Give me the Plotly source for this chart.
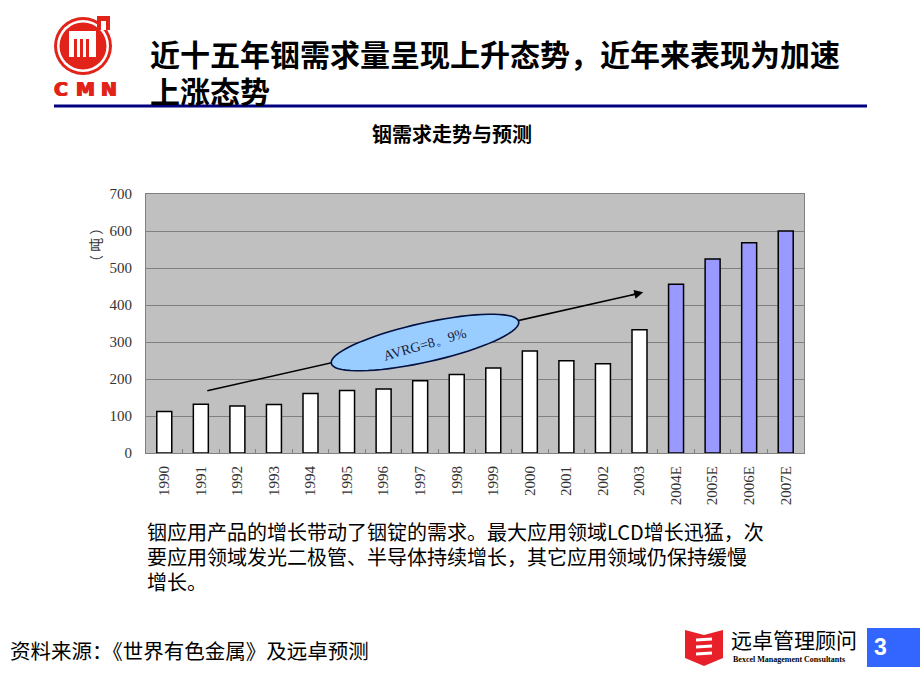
import math
import plotly.graph_objects as go

# ---------------- data ----------------
years_hist = ["1990", "1991", "1992", "1993", "1994", "1995", "1996", "1997",
              "1998", "1999", "2000", "2001", "2002", "2003"]
demand_hist = [112, 132, 127, 131, 161, 169, 173, 195, 212, 230, 276, 249, 241, 333]
years_fcst = ["2004E", "2005E", "2006E", "2007E"]
demand_fcst = [456, 524, 568, 600]
y_ticks = [0, 100, 200, 300, 400, 500, 600, 700]

title_line1 = "近十五年铟需求量呈现上升态势，近年来表现为加速"
title_line2 = "上涨态势"
chart_title = "铟需求走势与预测"
unit_label = "（ 吨 ）"
avrg_label = "AVRG=8。9%"
body_lines = ["铟应用产品的增长带动了铟锭的需求。最大应用领域LCD增长迅猛，次",
              "要应用领域发光二极管、半导体持续增长，其它应用领域仍保持缓慢",
              "增长。"]
source_text = "资料来源：《世界有色金属》及远卓预测"

W, H = 920, 690


def px(x):
    return x / W


def py(y):
    return 1 - y / H


CJK = "Noto Sans CJK SC"
SERIF = "Liberation Serif"
RED = "#E2231A"

fig = go.Figure()
fig.add_trace(go.Bar(x=years_hist, y=demand_hist, marker=dict(color="white", line=dict(color="black", width=1.5)),
                     showlegend=False))
fig.add_trace(go.Bar(x=years_fcst, y=demand_fcst, marker=dict(color="#9999FF", line=dict(color="black", width=1.5)),
                     showlegend=False))

shapes = []
annotations = []

# title underline
shapes.append(dict(type="line", xref="paper", yref="paper", x0=px(54), x1=px(867), y0=py(106), y1=py(106),
                   line=dict(color="#000080", width=3)))

# CMN logo
cx, cy = 83, 46


def circ(r, **kw):
    d = dict(type="circle", xref="paper", yref="paper", x0=px(cx - r), x1=px(cx + r), y0=py(cy + r), y1=py(cy - r))
    d.update(kw)
    return d


def rect(x0, y0, x1, y1, color):
    return dict(type="rect", xref="paper", yref="paper", x0=px(x0), x1=px(x1), y0=py(y1), y1=py(y0),
                fillcolor=color, line=dict(width=0))


shapes.append(circ(29, fillcolor=RED, line=dict(width=0)))
shapes.append(circ(26, fillcolor="white", line=dict(width=0)))
shapes.append(circ(23.5, fillcolor=RED, line=dict(width=0)))
shapes.append(rect(69, 31, 96, 57, "white"))
shapes.append(rect(74, 39, 77, 57, RED))
shapes.append(rect(80, 39, 83, 57, RED))
shapes.append(rect(86, 39, 89, 57, RED))
shapes.append(rect(92, 36, 96, 57, "white"))
shapes.append(rect(97, 16, 110, 30, RED))
shapes.append(rect(101, 21, 106, 30, "white"))
thick = ", ".join("%gpx %gpx 0px %s" % (dx, dy, RED) for dx, dy in ((0.8, 0), (-0.8, 0)))
for letter, lx in (("C", 61), ("M", 85), ("N", 108.5)):
    annotations.append(dict(text="<b>%s</b>" % letter, xref="paper", yref="paper", x=px(lx), y=py(89),
                            xanchor="center", yanchor="middle", showarrow=False,
                            font=dict(family="DejaVu Sans", size=19, color=RED, shadow=thick)))

# titles
annotations.append(dict(text="<b>%s</b>" % title_line1, xref="paper", yref="paper", x=px(148), y=py(53),
                        xanchor="left", yanchor="middle", showarrow=False,
                        font=dict(family=CJK, size=30, color="black")))
annotations.append(dict(text="<b>%s</b>" % title_line2, xref="paper", yref="paper", x=px(148), y=py(90),
                        xanchor="left", yanchor="middle", showarrow=False,
                        font=dict(family=CJK, size=30, color="black")))
annotations.append(dict(text="<b>%s</b>" % chart_title, xref="paper", yref="paper", x=px(452), y=py(133),
                        xanchor="center", yanchor="middle", showarrow=False,
                        font=dict(family=CJK, size=20, color="black")))
annotations.append(dict(text=unit_label, xref="paper", yref="paper", x=px(95), y=py(245), textangle=-90,
                        xanchor="center", yanchor="middle", showarrow=False,
                        font=dict(family=CJK, size=14, color="#333333")))

# trend arrow (line under the ellipse)
sx, sy = 207.3, 390.7
ex, ey = 643.3, 292.3
shapes.append(dict(type="line", xref="paper", yref="paper", x0=px(sx), y0=py(sy), x1=px(ex - 6), y1=py(ey + 1.4),
                   line=dict(color="black", width=1.5)))
L = math.hypot(ex - sx, ey - sy)
ux, uy = (sx - ex) / L, (sy - ey) / L
annotations.append(dict(text="", xref="paper", yref="paper", x=px(ex), y=py(ey), ax=ux * 14, ay=uy * 14,
                        showarrow=True, arrowhead=2, arrowsize=1.2, arrowwidth=1.5, arrowcolor="black"))

# rotated ellipse
ecx, ecy, ea, eb = 425, 342.5, 96, 19.5
th = math.radians(-12.6)
pts = []
for k in range(73):
    t = 2 * math.pi * k / 72
    xx = ecx + ea * math.cos(t) * math.cos(th) - eb * math.sin(t) * math.sin(th)
    yy = ecy + ea * math.cos(t) * math.sin(th) + eb * math.sin(t) * math.cos(th)
    pts.append((px(xx), py(yy)))
path = "M " + " L ".join("%.5f,%.5f" % p for p in pts) + " Z"
shapes.append(dict(type="path", xref="paper", yref="paper", path=path, fillcolor="#99CCFF",
                   line=dict(color="#001040", width=1.6), layer="above"))
annotations.append(dict(text=avrg_label, xref="paper", yref="paper", x=px(425), y=py(344), textangle=-16,
                        xanchor="center", yanchor="middle", showarrow=False,
                        font=dict(family=SERIF, size=14, color="#1a1a3a")))

# body text
for i, line in enumerate(body_lines):
    annotations.append(dict(text=line, xref="paper", yref="paper", x=px(145), y=py(531 + 25 * i),
                            xanchor="left", yanchor="middle", showarrow=False,
                            font=dict(family=CJK, size=20, color="black")))
annotations.append(dict(text=source_text, xref="paper", yref="paper", x=px(8), y=py(650),
                        xanchor="left", yanchor="middle", showarrow=False,
                        font=dict(family=CJK, size=20.5, color="black")))

# Bexcel logo
shield = [(685, 630), (704, 635), (723, 630), (723, 658), (704, 666), (685, 658)]
shapes.append(dict(type="path", xref="paper", yref="paper",
                   path="M " + " L ".join("%.5f,%.5f" % (px(a), py(b)) for a, b in shield) + " Z",
                   fillcolor="#E8202A", line=dict(width=0)))
for yy in (640, 647, 654):
    shapes.append(dict(type="line", xref="paper", yref="paper", x0=px(696), x1=px(712), y0=py(yy), y1=py(yy - 1),
                       line=dict(color="white", width=3)))
annotations.append(dict(text="远卓管理顾问", xref="paper", yref="paper", x=px(729), y=py(639),
                        xanchor="left", yanchor="middle", showarrow=False,
                        font=dict(family=CJK, size=21, color="black")))
annotations.append(dict(text="<b>Bexcel Management Consultants</b>", xref="paper", yref="paper", x=px(731), y=py(659),
                        xanchor="left", yanchor="middle", showarrow=False,
                        font=dict(family=SERIF, size=8, color="black")))
shapes.append(rect(867, 628, 920, 667, "#3366FF"))
annotations.append(dict(text="<b>3</b>", xref="paper", yref="paper", x=px(872), y=py(647),
                        xanchor="left", yanchor="middle", showarrow=False,
                        font=dict(family="Liberation Sans", size=23, color="white")))

fig.update_layout(
    width=W, height=H,
    margin=dict(l=0, r=0, t=0, b=0, autoexpand=False),
    paper_bgcolor="white", plot_bgcolor="#C0C0C0",
    barmode="overlay", bargap=0.59,
    shapes=shapes, annotations=annotations,
    xaxis=dict(domain=[px(146), px(804)], type="category",
               categoryorder="array", categoryarray=years_hist + years_fcst,
               tickangle=-90, tickfont=dict(family=SERIF, size=15, color="#333333"),
               showline=True, linecolor="#808080", linewidth=1, mirror=True,
               ticks="inside", tickson="boundaries", ticklen=4, tickcolor="#808080",
               showgrid=False, automargin=False, ticklabelstandoff=6),
    yaxis=dict(domain=[py(453), py(194)], range=[0, 700], tickvals=y_ticks,
               tickfont=dict(family=SERIF, size=15, color="#333333"),
               showline=True, linecolor="#808080", linewidth=1, mirror=True,
               gridcolor="#808080", gridwidth=1, zeroline=False, ticks="",
               automargin=False, ticklabelstandoff=10),
)

fig.write_html("out.html", config={"displayModeBar": False},
               post_script="document.body.style.margin='0px';")
